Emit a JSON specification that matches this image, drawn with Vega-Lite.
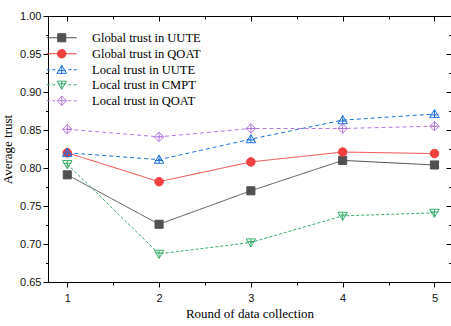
{
  "$schema": "https://vega.github.io/schema/vega-lite/v6.json",
  "width": 403,
  "height": 266,
  "autosize": "none",
  "padding": {"left": 48, "top": 16, "right": 0, "bottom": 44},
  "background": "white",
  "config": {
    "view": {"stroke": "black", "strokeWidth": 1},
    "axis": {
      "grid": false,
      "domainColor": "black",
      "tickColor": "black",
      "labelColor": "#111111",
      "titleColor": "black",
      "labelFont": "Liberation Sans",
      "labelFontSize": 11,
      "titleFont": "Liberation Serif",
      "titleFontSize": 13,
      "titleFontWeight": "normal",
      "labelOverlap": false,
      "labelBound": false,
      "labelFlush": false
    }
  },
  "data": {
    "values": [
      {"round": 1, "series": "Global trust in UUTE", "trust": 0.791},
      {"round": 2, "series": "Global trust in UUTE", "trust": 0.726},
      {"round": 3, "series": "Global trust in UUTE", "trust": 0.770},
      {"round": 4, "series": "Global trust in UUTE", "trust": 0.810},
      {"round": 5, "series": "Global trust in UUTE", "trust": 0.804},
      {"round": 1, "series": "Global trust in QOAT", "trust": 0.820},
      {"round": 2, "series": "Global trust in QOAT", "trust": 0.782},
      {"round": 3, "series": "Global trust in QOAT", "trust": 0.808},
      {"round": 4, "series": "Global trust in QOAT", "trust": 0.821},
      {"round": 5, "series": "Global trust in QOAT", "trust": 0.819},
      {"round": 1, "series": "Local trust in UUTE", "trust": 0.820},
      {"round": 2, "series": "Local trust in UUTE", "trust": 0.811},
      {"round": 3, "series": "Local trust in UUTE", "trust": 0.838},
      {"round": 4, "series": "Local trust in UUTE", "trust": 0.863},
      {"round": 5, "series": "Local trust in UUTE", "trust": 0.871},
      {"round": 1, "series": "Local trust in CMPT", "trust": 0.805},
      {"round": 2, "series": "Local trust in CMPT", "trust": 0.687},
      {"round": 3, "series": "Local trust in CMPT", "trust": 0.702},
      {"round": 4, "series": "Local trust in CMPT", "trust": 0.737},
      {"round": 5, "series": "Local trust in CMPT", "trust": 0.741},
      {"round": 1, "series": "Local trust in QOAT", "trust": 0.851},
      {"round": 2, "series": "Local trust in QOAT", "trust": 0.841},
      {"round": 3, "series": "Local trust in QOAT", "trust": 0.852},
      {"round": 4, "series": "Local trust in QOAT", "trust": 0.852},
      {"round": 5, "series": "Local trust in QOAT", "trust": 0.855}
    ]
  },
  "resolve": {"axis": {"x": "independent", "y": "independent"}},
  "layer": [
    {
      "mark": {"type": "line", "strokeWidth": 1},
      "encoding": {
        "x": {
          "field": "round", "type": "quantitative",
          "scale": {"domain": [0.79, 5.18], "nice": false, "zero": false},
          "axis": {
            "orient": "bottom",
            "title": "Round of data collection",
            "values": [1, 1.5, 2, 2.5, 3, 3.5, 4, 4.5, 5],
            "labelExpr": "datum.value % 1 === 0 ? format(datum.value, 'd') : ''",
            "tickSize": {"condition": {"test": "datum.value % 1 !== 0", "value": 3}, "value": 5},
            "labelPadding": 5,
            "titlePadding": 4
          }
        },
        "y": {
          "field": "trust", "type": "quantitative",
          "scale": {"domain": [0.65, 1.0], "nice": false, "zero": false},
          "axis": {
            "orient": "left",
            "title": "Average trust",
            "values": [0.65, 0.675, 0.7, 0.725, 0.75, 0.775, 0.8, 0.825, 0.85, 0.875, 0.9, 0.925, 0.95, 0.975, 1.0],
            "labelExpr": "abs(datum.value * 20 - round(datum.value * 20)) < 0.01 ? format(datum.value, '.2f') : ''",
            "tickSize": {"condition": {"test": "abs(datum.value * 20 - round(datum.value * 20)) > 0.01", "value": 2.5}, "value": 5},
            "labelPadding": 2,
            "titlePadding": 5
          }
        },
        "stroke": {
          "field": "series", "type": "nominal",
          "scale": {
            "domain": ["Global trust in UUTE", "Global trust in QOAT", "Local trust in UUTE", "Local trust in CMPT", "Local trust in QOAT"],
            "range": ["#515151", "#F14040", "#1A6FDF", "#37AD6B", "#B177DE"]
          },
          "legend": {
            "orient": "none",
            "legendX": -3.5,
            "legendY": 15.5,
            "title": null,
            "symbolSize": 81,
            "symbolStrokeWidth": 1,
            "symbolOffset": 11,
            "labelOffset": 24,
            "labelFont": "Liberation Serif",
            "labelFontSize": 12.5,
            "labelColor": "black",
            "rowPadding": 2,
            "padding": 0,
            "encode": {
              "symbols": {
                "update": {
                  "strokeDash": {"value": []},
                  "fill": {"signal": "datum.value === 'Global trust in UUTE' ? '#515151' : datum.value === 'Global trust in QOAT' ? '#F14040' : 'transparent'"},
                  "shape": {"signal": "datum.value === 'Global trust in UUTE' ? 'M-3.33,0L3.33,0M-0.9,-0.9L0.9,-0.9L0.9,0.9L-0.9,0.9Z' : datum.value === 'Global trust in QOAT' ? 'M-3.33,0L3.33,0M0.95,0A0.95,0.95 0 1,1 -0.95,0A0.95,0.95 0 1,1 0.95,0Z' : datum.value === 'Local trust in UUTE' ? 'M-3.33,0L-2.66,0M-2.11,0L-1.44,0M1.44,0L2.11,0M2.66,0L3.33,0M0,-1L1.05,0.8L-1.05,0.8ZM-0.9,0.2L0.9,0.2M0,-1L0,0.8' : datum.value === 'Local trust in CMPT' ? 'M-3.33,0L-2.66,0M-2.11,0L-1.44,0M1.44,0L2.11,0M2.66,0L3.33,0M0,1L1.05,-0.8L-1.05,-0.8ZM-0.9,-0.2L0.9,-0.2M0,1L0,-0.8' : 'M-3.33,0L-2.66,0M-2.11,0L-1.44,0M1.44,0L2.11,0M2.66,0L3.33,0M0,-1.05L1.05,0L0,1.05L-1.05,0ZM-1.05,0L1.05,0M0,-1.05L0,1.05'"}
                }
              }
            }
          }
        },
        "strokeDash": {
          "field": "series", "type": "nominal",
          "scale": {
            "domain": ["Local trust in UUTE", "Global trust in UUTE", "Global trust in QOAT", "Local trust in CMPT", "Local trust in QOAT"],
            "range": [[4, 3], [1, 0], [1, 0], [3, 2], [4, 3]]
          },
          "legend": null
        }
      }
    },
    {
      "mark": {"type": "point", "size": 81, "strokeWidth": 1, "opacity": 1},
      "encoding": {
        "x": {"field": "round", "type": "quantitative", "axis": null},
        "y": {"field": "trust", "type": "quantitative", "axis": null},
        "stroke": {"field": "series", "type": "nominal", "legend": null},
        "fill": {
          "field": "series", "type": "nominal",
          "scale": {
            "domain": ["Global trust in QOAT", "Global trust in UUTE", "Local trust in UUTE", "Local trust in CMPT", "Local trust in QOAT"],
            "range": ["#F14040", "#515151", "transparent", "transparent", "transparent"]
          },
          "legend": null
        },
        "shape": {
          "field": "series", "type": "nominal",
          "scale": {
            "domain": ["Local trust in QOAT", "Local trust in CMPT", "Local trust in UUTE", "Global trust in QOAT", "Global trust in UUTE"],
            "range": [
              "M0,-1.05L1.05,0L0,1.05L-1.05,0ZM-1.05,0L1.05,0M0,-1.05L0,1.05",
              "M0,1L1.05,-0.8L-1.05,-0.8ZM-0.9,-0.2L0.9,-0.2M0,1L0,-0.8",
              "M0,-1L1.05,0.8L-1.05,0.8ZM-0.9,0.2L0.9,0.2M0,-1L0,0.8",
              "M0.95,0A0.95,0.95 0 1,1 -0.95,0A0.95,0.95 0 1,1 0.95,0Z",
              "M-0.9,-0.9L0.9,-0.9L0.9,0.9L-0.9,0.9Z"
            ]
          },
          "legend": null
        }
      }
    },
    {
      "mark": {"type": "point", "opacity": 0},
      "encoding": {
        "x": {
          "field": "round", "type": "quantitative",
          "axis": {
            "orient": "top", "title": null, "labels": false, "domain": false,
            "values": [1, 1.5, 2, 2.5, 3, 3.5, 4, 4.5, 5],
            "tickSize": {"condition": {"test": "datum.value % 1 !== 0", "value": -3}, "value": -5}
          }
        },
        "y": {
          "field": "trust", "type": "quantitative",
          "axis": {
            "orient": "right", "title": null, "labels": false, "domain": false,
            "values": [0.65, 0.675, 0.7, 0.725, 0.75, 0.775, 0.8, 0.825, 0.85, 0.875, 0.9, 0.925, 0.95, 0.975, 1.0],
            "tickSize": {"condition": {"test": "abs(datum.value * 20 - round(datum.value * 20)) > 0.01", "value": -2.5}, "value": -5}
          }
        }
      }
    }
  ]
}
